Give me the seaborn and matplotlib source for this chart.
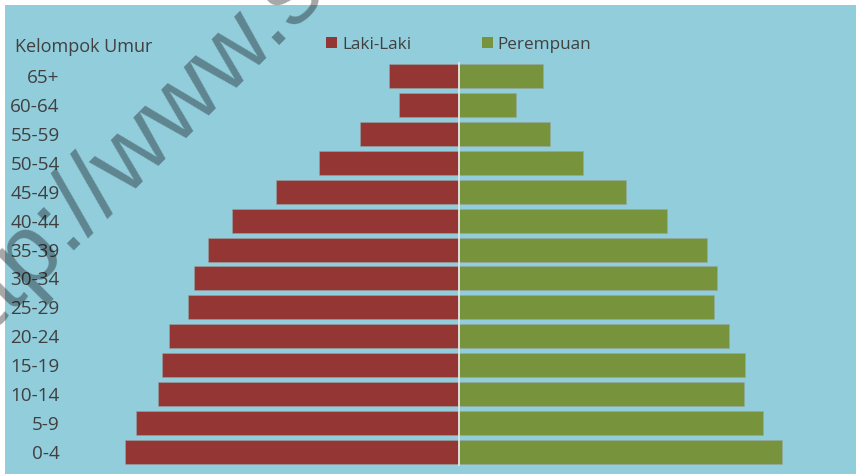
import matplotlib
matplotlib.use("Agg")
import matplotlib.pyplot as plt
from matplotlib.patches import Rectangle, Patch
import seaborn as sns
import pandas as pd

# ---- data ----
kelompok = ["65+", "60-64", "55-59", "50-54", "45-49", "40-44", "35-39",
            "30-34", "25-29", "20-24", "15-19", "10-14", "5-9", "0-4"]
laki = [70, 60, 99, 140, 183, 227, 251, 265, 271, 290, 297, 301, 323, 334]
perempuan = [84, 57, 91, 124, 167, 208, 248, 258, 255, 270, 286, 285, 304, 323]
series = ["Laki-Laki", "Perempuan"]
colors = ["#943634", "#77933C"]

df = pd.concat([
    pd.DataFrame({"Kelompok": kelompok, "Nilai": [-v for v in laki], "Jenis": series[0]}),
    pd.DataFrame({"Kelompok": kelompok, "Nilai": perempuan, "Jenis": series[1]}),
], ignore_index=True)

sns.set_style("white")
plt.rcParams["font.family"] = ["Open Sans", "DejaVu Sans"]

W, H = 856, 474
fig = plt.figure(figsize=(W / 100, H / 100), dpi=100, facecolor="white")
bg = "#92CDDC"
fig.patches.append(Rectangle((5 / W, 0), 1 - 5 / W, 1 - 5 / H, transform=fig.transFigure,
                             facecolor=bg, edgecolor="none", zorder=-5))

left, right, top, bottom = 64, 850, 62, 466
ax = fig.add_axes([left / W, 1 - bottom / H, (right - left) / W, (bottom - top) / H])
ax.set_facecolor("none")
ax.set_zorder(2)

sns.barplot(data=df, y="Kelompok", x="Nilai", hue="Jenis", order=kelompok,
            hue_order=series, palette=colors, dodge=False, width=0.83,
            orient="h", ax=ax, legend=False, saturation=1,
            edgecolor=(0.6, 0.65, 0.65, 0.6), linewidth=0.6)

center = 458.5
ax.set_xlim(left - center, right - center)
ax.set_ylim(len(kelompok) - 0.5, -0.5)
ax.axvline(0, color="#E6E6E6", lw=1.3, zorder=5)
for s in ax.spines.values():
    s.set_visible(False)
ax.set_xticks([])
ax.set_xlabel("")
ax.set_ylabel("")
ax.tick_params(axis="y", length=0, pad=3, labelsize=13.6, labelcolor="#404040")

fig.text(15 / W, 1 - 47 / H, "Kelompok Umur", ha="left", va="center",
         fontsize=13, color="#404040")

handles = [Patch(facecolor=c, edgecolor="none") for c in colors]
ax.legend(handles, series, loc="center left",
          bbox_to_anchor=((326 - left) / (right - left), (bottom - 44.5) / (bottom - top)),
          ncol=2, frameon=False, fontsize=12.3, labelcolor="#404040",
          handlelength=0.64, handleheight=0.64, handletextpad=0.29,
          columnspacing=4.15, borderaxespad=0, borderpad=0)

# watermark
fig.text(-50 / W, 1 - 368 / H, "http://www.s", rotation=45, rotation_mode="anchor",
         ha="left", va="baseline", fontsize=71, family="Liberation Sans",
         color="black", alpha=0.35, zorder=20)

fig.savefig("out.png", dpi=100, facecolor=fig.get_facecolor())
